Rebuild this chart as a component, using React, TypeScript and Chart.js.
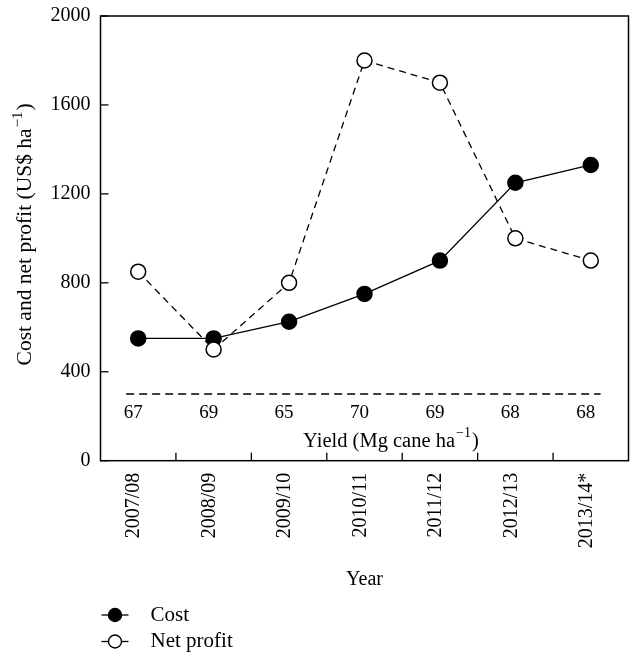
import React, { useEffect, useRef } from "react";
import { Chart, registerables } from "chart.js";
Chart.register(...registerables);

const years = ["2007/08", "2008/09", "2009/10", "2010/11", "2011/12", "2012/13", "2013/14*"];
const yieldLabels = ["67", "69", "65", "70", "69", "68", "68"];
const cost = [550, 550, 625, 750, 900, 1250, 1330];
const netProfit = [850, 500, 800, 1800, 1700, 1000, 900];
const yTicks = [0, 400, 800, 1200, 1600, 2000];
const yieldLineValue = 300;
const yieldLineSpan = [-0.16, 6.13];
const yieldLabelValue = 216;
const yieldTitleValue = 85;
const yieldTitleX = 3.35;

const FONT = "'Liberation Serif', 'Times New Roman', serif";

function drawSupText(ctx: any, parts: string[], size: number, supSize: number, x: number, y: number, center: boolean) {
  ctx.font = `${size}px ${FONT}`;
  const w1 = ctx.measureText(parts[0]).width;
  const w3 = ctx.measureText(parts[2]).width;
  ctx.font = `${supSize}px ${FONT}`;
  const w2 = ctx.measureText(parts[1]).width;
  const total = w1 + w2 + w3 + 2;
  const sx = center ? x - total / 2 : x;
  ctx.textAlign = "left";
  ctx.font = `${size}px ${FONT}`;
  ctx.fillText(parts[0], sx, y);
  ctx.font = `${supSize}px ${FONT}`;
  ctx.fillText(parts[1], sx + w1 + 1, y - size * 0.4);
  ctx.font = `${size}px ${FONT}`;
  ctx.fillText(parts[2], sx + w1 + w2 + 2, y);
}

const framePlugin = {
  id: "frame",
  afterDraw(chart: any) {
    const { ctx, chartArea: a, scales } = chart;
    const y = scales.y;
    const x = scales.x;
    ctx.save();
    ctx.strokeStyle = "#000";
    ctx.lineWidth = 1.5;
    ctx.setLineDash([]);
    ctx.strokeRect(a.left, a.top, a.right - a.left, a.bottom - a.top);
    ctx.lineWidth = 1.3;
    yTicks.forEach((v) => {
      const py = y.getPixelForValue(v);
      ctx.beginPath();
      ctx.moveTo(a.left, py);
      ctx.lineTo(a.left + 8, py);
      ctx.stroke();
    });
    for (let i = 1; i < years.length; i++) {
      const px = x.getPixelForValue(i - 0.5);
      ctx.beginPath();
      ctx.moveTo(px, a.bottom);
      ctx.lineTo(px, a.bottom - 8);
      ctx.stroke();
    }
    ctx.fillStyle = "#000";
    ctx.font = `19px ${FONT}`;
    ctx.textAlign = "center";
    ctx.textBaseline = "middle";
    const ly = y.getPixelForValue(yieldLabelValue);
    yieldLabels.forEach((t, i) => ctx.fillText(t, x.getPixelForValue(i) - 5, ly));

    ctx.textBaseline = "middle";
    drawSupText(
      ctx,
      ["Yield (Mg cane ha", "\u22121", ")"],
      20.5,
      14,
      x.getPixelForValue(yieldTitleX),
      y.getPixelForValue(yieldTitleValue),
      true
    );

    // rotated y-axis title
    ctx.save();
    ctx.translate(30.5, (a.top + a.bottom) / 2 - 4);
    ctx.rotate(-Math.PI / 2);
    ctx.textBaseline = "alphabetic";
    drawSupText(ctx, ["Cost and net profit (US$ ha", "\u22121", ")"], 21.5, 15, 0, 0, true);
    ctx.restore();

    // legend
    const items = [
      { label: "Cost", fill: "#000", y: 615 },
      { label: "Net profit", fill: "#fff", y: 641.5 },
    ];
    items.forEach((it) => {
      ctx.lineWidth = 1.3;
      ctx.strokeStyle = "#000";
      ctx.beginPath();
      ctx.moveTo(a.left + 1, it.y);
      ctx.lineTo(a.left + 28, it.y);
      ctx.stroke();
      ctx.beginPath();
      ctx.arc(a.left + 14.5, it.y, 6.5, 0, Math.PI * 2);
      ctx.fillStyle = it.fill;
      ctx.fill();
      ctx.lineWidth = 1.4;
      ctx.stroke();
      ctx.fillStyle = "#000";
      ctx.font = `21px ${FONT}`;
      ctx.textAlign = "left";
      ctx.textBaseline = "middle";
      ctx.fillText(it.label, a.left + 50, it.y);
    });
    ctx.restore();
  },
};

export default function App() {
  const ref = useRef<HTMLCanvasElement>(null);
  useEffect(() => {
    const canvas = ref.current!;
    const chart = new Chart(canvas, {
      type: "line",
      data: {
        datasets: [
          {
            label: "Net profit",
            data: netProfit.map((v, i) => ({ x: i, y: v })),
            borderColor: "#000",
            borderWidth: 1.3,
            borderDash: [7, 5],
            pointRadius: 7.5,
            pointBackgroundColor: "#fff",
            pointBorderColor: "#000",
            pointBorderWidth: 1.5,
            order: 0,
            tension: 0,
          },
          {
            label: "Cost",
            data: cost.map((v, i) => ({ x: i, y: v })),
            borderColor: "#000",
            borderWidth: 1.3,
            pointRadius: 7.5,
            pointBackgroundColor: "#000",
            pointBorderColor: "#000",
            pointBorderWidth: 1.5,
            order: 1,
            tension: 0,
          },
          {
            label: "yield",
            data: yieldLineSpan.map((xv) => ({ x: xv, y: yieldLineValue })),
            borderColor: "#000",
            borderWidth: 1.3,
            borderDash: [8, 5],
            pointRadius: 0,
            order: 2,
          },
        ],
      } as any,
      options: {
        animation: false,
        responsive: false,
        devicePixelRatio: 1,
        layout: { autoPadding: false, padding: { top: 16, right: 2.5, left: 0, bottom: 0 } },
        plugins: { legend: { display: false }, tooltip: { enabled: false } },
        scales: {
          x: {
            type: "linear",
            position: "bottom",
            min: -0.5,
            max: 6.5,
            grid: { display: false },
            border: { display: false },
            afterBuildTicks: (s: any) => {
              s.ticks = years.map((_, i) => ({ value: i }));
            },
            afterFit: (s: any) => {
              s.height = 193.3;
              s.paddingLeft = 0;
              s.paddingRight = 0;
            },
            ticks: {
              autoSkip: false,
              minRotation: 90,
              maxRotation: 90,
              padding: 4,
              labelOffset: -4,
              color: "#000",
              font: { family: FONT, size: 20 },
              callback: (_v: any, i: number) => years[i],
            },
            title: {
              display: true,
              text: "Year",
              color: "#000",
              font: { family: FONT, size: 20 },
              padding: { top: 0, bottom: 62 },
            },
          },
          y: {
            type: "linear",
            min: 0,
            max: 2000,
            grid: { display: false, drawTicks: false },
            border: { display: false },
            afterBuildTicks: (s: any) => {
              s.ticks = yTicks.map((v) => ({ value: v }));
            },
            afterFit: (s: any) => {
              s.width = 100.5;
              s.paddingTop = 0;
              s.paddingBottom = 0;
            },
            ticks: {
              padding: 10,
              color: "#000",
              font: { family: FONT, size: 20 },
              callback: (v: any) => String(v),
            },
          },
        },
      } as any,
      plugins: [framePlugin],
    });
    return () => chart.destroy();
  }, []);
  return (
    <div style={{ position: "fixed", left: 0, top: 0, width: 631, height: 654 }}>
      <canvas ref={ref} width={631} height={654} />
    </div>
  );
}
